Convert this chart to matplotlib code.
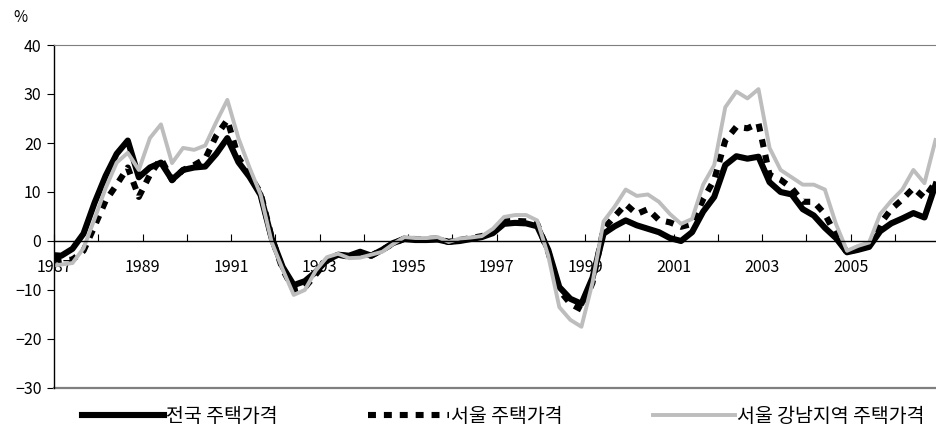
import numpy as np
import matplotlib
matplotlib.use('Agg')
import matplotlib.pyplot as plt

plt.rcParams['font.family'] = ['Noto Sans CJK KR', 'DejaVu Sans']

# 1987년 1월 = 0, 이후 분기말(3,6,9,12월) 기준 월 인덱스
months = [0] + list(range(2, 240, 3))
t = 1987 + np.array(months) / 12.0

# 전년 동월 대비 상승률 (%)
national = [-2.9, -3.0, -1.6, 1.5, 7.8, 13.3, 17.8, 20.5, 13.0, 15.0,
            16.0, 12.5, 14.5, 15.0, 15.2, 17.8, 21.0, 16.1, 13.1, 9.4,
            0.6, -5.3, -9.0, -8.2, -6.3, -3.9, -2.8, -3.0, -2.2, -3.0,
            -1.8, -0.4, 0.4, 0.2, 0.2, 0.3, -0.2, 0.0, 0.4, 0.8,
            1.6, 3.5, 3.7, 3.6, 3.0, -1.8, -9.4, -11.8, -12.8, -7.5,
            1.5, 3.0, 4.2, 3.2, 2.5, 1.8, 0.6, 0.0, 1.8, 6.0,
            9.0, 15.5, 17.3, 16.8, 17.2, 12.0, 10.0, 9.5, 6.5, 5.2,
            2.7, 0.6, -2.3, -1.8, -1.2, 2.0, 3.6, 4.6, 5.7, 4.8, 11.5]
seoul = [-3.5, -4.0, -3.8, -2.0, 3.0, 8.2, 11.5, 15.0, 9.0, 13.5,
         16.8, 12.4, 14.5, 15.5, 16.8, 21.5, 24.7, 17.0, 13.5, 9.8,
         0.8, -5.8, -10.0, -9.5, -6.8, -4.0, -2.8, -3.2, -2.4, -3.0,
         -1.8, -0.5, 0.5, 0.4, 0.4, 0.5, -0.2, 0.2, 0.6, 1.0,
         1.8, 4.0, 4.1, 4.0, 3.5, -2.2, -10.0, -12.8, -14.0, -8.5,
         2.5, 5.0, 7.5, 5.5, 6.5, 4.3, 3.8, 2.9, 3.5, 8.5,
         12.5, 20.5, 23.3, 23.0, 24.0, 13.5, 12.5, 10.8, 8.0, 8.0,
         5.5, 1.2, -2.4, -1.6, -1.0, 3.5, 6.5, 8.5, 10.8, 8.8, 12.0]
gangnam = [-5.0, -4.8, -4.5, -1.5, 4.5, 10.8, 16.0, 18.0, 14.5, 21.0,
           23.8, 15.9, 19.0, 18.6, 19.5, 24.3, 28.8, 21.0, 15.0, 9.5,
           -0.2, -5.8, -11.0, -10.0, -6.0, -3.3, -2.6, -3.5, -3.4, -2.8,
           -2.2, -0.6, 0.8, 0.6, 0.6, 0.8, -0.2, 0.5, 0.7, 1.0,
           2.5, 4.9, 5.3, 5.3, 4.2, -3.0, -13.5, -16.1, -17.5, -8.5,
           4.0, 7.0, 10.5, 9.2, 9.5, 8.0, 5.5, 3.5, 4.5, 11.5,
           15.5, 27.3, 30.5, 29.1, 31.0, 19.0, 14.5, 13.0, 11.5, 11.5,
           10.5, 3.5, -2.0, -1.0, -0.3, 5.5, 8.2, 10.5, 14.5, 11.8, 20.6]

labels = ['전국 주택가격', '서울 주택가격', '서울 강남지역 주택가격']
year_ticks = list(range(1987, 2007))
y_ticks = [-30, -20, -10, 0, 10, 20, 30, 40]

fig = plt.figure(figsize=(9.37, 4.38), dpi=100)
ax = fig.add_axes([54 / 937, 1 - 388 / 438, 1 - 54 / 937, (388 - 45) / 438])

ax.plot(t, national, color='black', lw=4.4, solid_joinstyle='round', label=labels[0])
ax.plot(t, seoul, color='black', lw=4.4, dashes=(1.3, 1.3), label=labels[1])
ax.plot(t, gangnam, color='#bdbdbd', lw=2.8, label=labels[2])

ax.set_xlim(1987, 2006.95)
ax.set_ylim(-30, 40)

# x축은 0선 위에
ax.spines['bottom'].set_position(('data', 0))
ax.spines['bottom'].set_linewidth(1.0)
ax.spines['right'].set_visible(False)
ax.spines['top'].set_color('#7f7f7f')
ax.spines['left'].set_linewidth(1.0)
ax.axhline(-30, color='#7f7f7f', lw=1.6, clip_on=False)

ax.set_xticks(year_ticks)
ax.set_xticklabels([str(y) if y % 2 else '' for y in year_ticks])
ax.tick_params(axis='x', direction='in', length=5, pad=13, labelsize=11.5)
ax.set_yticks(y_ticks)
ax.tick_params(axis='y', direction='out', length=5, pad=4, labelsize=11.5)

fig.text(13 / 937, 1 - 18 / 438, '%', fontsize=11, ha='left', va='center')

fig.legend(loc='center left', bbox_to_anchor=(82 / 937, 1 - 416 / 438), ncol=3,
           frameon=False, fontsize=14, handlelength=4.2, handletextpad=0.1,
           columnspacing=4.65, borderpad=0, borderaxespad=0)

fig.savefig('out.png', dpi=100)
